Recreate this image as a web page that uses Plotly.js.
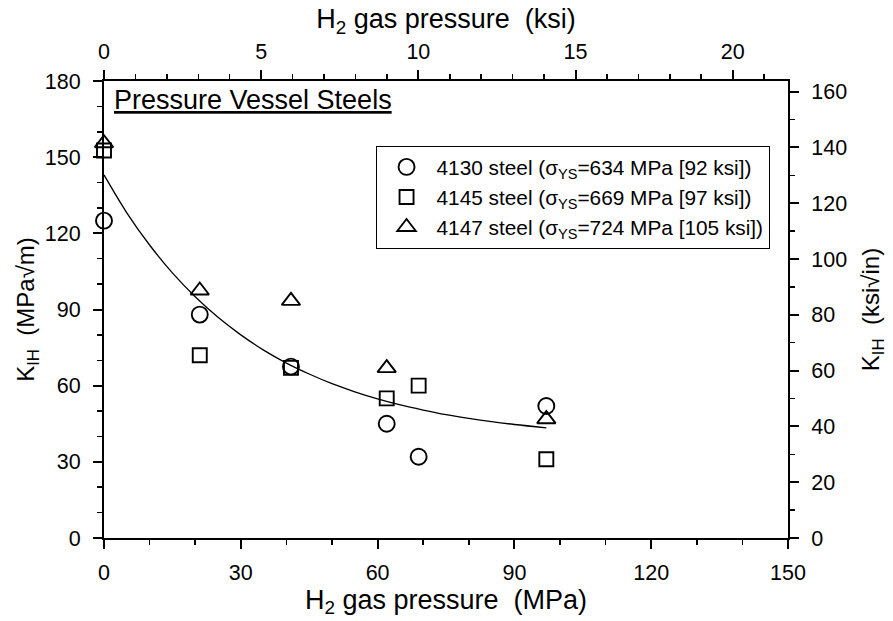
<!DOCTYPE html>
<html>
<head>
<meta charset="utf-8">
<script src="https://cdn.plot.ly/plotly-3.0.1.min.js"></script>
<style>html,body{margin:0;padding:0;background:#fff;}#chart{width:893px;height:621px;}</style>
</head>
<body>
<div id="chart"></div>
<script>
// Data (MPa, MPa·√m)
var p4130 = [0, 21, 41, 62, 69, 97];
var k4130 = [125, 88, 67.5, 45, 32, 52];
var p4145 = [0, 21, 41, 62, 69, 97];
var k4145 = [152.6, 72, 67, 55, 60, 31];
var p4147 = [0, 21, 41, 62, 97];
var k4147 = [155.5, 97.5, 93.4, 66.9, 46.8];
// Fitted trend curve
var pFit = [0, 5, 10, 15, 20, 25, 30, 35, 40, 45, 50, 55, 60, 65, 70, 75, 80, 85, 90, 97];
var kFit = [143, 128.1, 115.4, 104.4, 95.0, 86.9, 80.0, 74.0, 68.9, 64.6, 60.8, 57.6, 54.8, 52.4, 50.4, 48.6, 47.1, 45.8, 44.7, 43.4];
var names = [
  "4130 steel (σ<sub>YS</sub>=634 MPa [92 ksi])",
  "4145 steel (σ<sub>YS</sub>=669 MPa [97 ksi])",
  "4147 steel (σ<sub>YS</sub>=724 MPa [105 ksi])"
];
var bottomTicks = [0, 30, 60, 90, 120, 150];
var leftTicks = [0, 30, 60, 90, 120, 150, 180];
var rightTicks = [0, 20, 40, 60, 80, 100, 120, 140, 160];
var topMajor = [0, 5, 10, 15, 20];
var topMinor = [1, 2, 3, 4, 6, 7, 8, 9, 11, 12, 13, 14, 16, 17, 18, 19, 21];

var F = "Liberation Sans, Arial, sans-serif";

var mk = function(sym, size){ return {symbol: sym, size: size, color: "rgba(255,255,255,0)", line: {color: "#000", width: 1.9}}; };

var traces = [
  {x: pFit, y: kFit, mode: "lines", line: {color: "#000", width: 1.3, shape: "spline"}, showlegend: false, hoverinfo: "skip"},
  {x: p4130, y: k4130, mode: "markers", name: names[0], marker: mk("circle", 16), legendgroup: "a", cliponaxis: false},
  {x: p4145, y: k4145, mode: "markers", name: names[1], marker: mk("square", 14), legendgroup: "b", cliponaxis: false},
  {x: p4147, y: k4147, mode: "markers", name: names[2], marker: mk("triangle-up", 16), legendgroup: "c", cliponaxis: false},
  {x: [], y: [], xaxis: "x2", yaxis: "y2", showlegend: false, hoverinfo: "skip"}
];

var tickCommon = {ticks: "outside", ticklen: 9, tickwidth: 2, tickcolor: "#000",
  showline: true, linecolor: "#000", linewidth: 2, showgrid: false, zeroline: false, automargin: false};
var minorCommon = {ticks: "outside", ticklen: 5, tickwidth: 1.5, tickcolor: "#000"};

var layout = {
  width: 893, height: 621,
  margin: {l: 104.3, r: 104.7, t: 81, b: 82.7, pad: 0},
  paper_bgcolor: "#fff", plot_bgcolor: "#fff",
  font: {family: F, color: "#000", size: 21},
  showlegend: true,
  legend: {
    x: 0.397, y: 0.858, xanchor: "left", yanchor: "top",
    bordercolor: "#000", borderwidth: 1, bgcolor: "#fff",
    font: {family: F, size: 20.8, color: "#000"},
    tracegroupgap: 0, itemwidth: 50
  },
  xaxis: Object.assign({}, tickCommon, {
    range: [0, 150], tickmode: "array", tickvals: bottomTicks,
    minor: Object.assign({dtick: 10, tick0: 0}, minorCommon),
    tickfont: {family: F, size: 21.5}, ticklabelstandoff: 5,
    title: {text: "H<sub>2</sub> gas pressure  (MPa)", font: {family: F, size: 27}, standoff: 5}
  }),
  xaxis2: Object.assign({}, tickCommon, {
    overlaying: "x", side: "top", anchor: "y", range: [0, 21.76],
    tickmode: "array", tickvals: topMajor,
    minor: Object.assign({tickmode: "array", tickvals: topMinor}, minorCommon),
    tickfont: {family: F, size: 21.5}, ticklabelstandoff: 2,
    title: {text: "H<sub>2</sub> gas pressure  (ksi)", font: {family: F, size: 27}, standoff: 4}
  }),
  yaxis: Object.assign({}, tickCommon, {
    range: [0, 180], tickmode: "array", tickvals: leftTicks,
    minor: Object.assign({dtick: 10, tick0: 0}, minorCommon),
    tickfont: {family: F, size: 21.5}, ticklabelstandoff: 8,
    title: {text: "K<sub>IH</sub>  (MPa√m)", font: {family: F, size: 24}, standoff: 3}
  }),
  yaxis2: Object.assign({}, tickCommon, {
    overlaying: "y", side: "right", anchor: "x", range: [0, 163.8],
    tickmode: "array", tickvals: rightTicks,
    minor: Object.assign({dtick: 10, tick0: 0}, minorCommon),
    tickfont: {family: F, size: 21.5}, ticklabelstandoff: 8,
    title: {text: "K<sub>IH</sub>  (ksi√in)", font: {family: F, size: 24}, standoff: 16}
  }),
  annotations: [{
    text: "<u>Pressure Vessel Steels</u>", xref: "paper", yref: "paper",
    x: 0.012, y: 0.958, xanchor: "left", yanchor: "middle", showarrow: false,
    font: {family: F, size: 27, color: "#000"}
  }]
};

Plotly.newPlot("chart", traces, layout, {displayModeBar: false, staticPlot: true});
</script>
</body>
</html>
